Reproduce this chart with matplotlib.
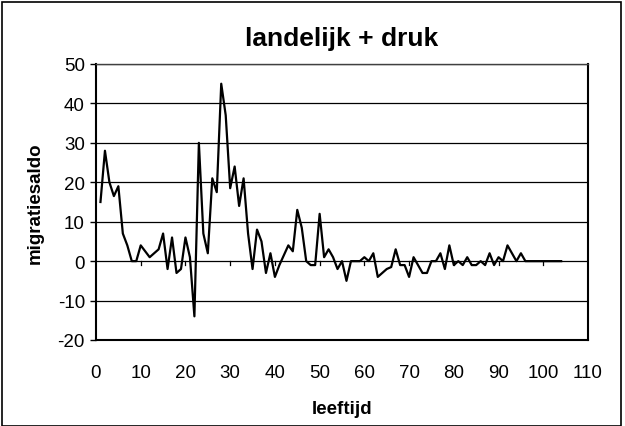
import matplotlib
matplotlib.use("Agg")
import matplotlib.pyplot as plt
from matplotlib.patches import Rectangle

plt.rcParams['font.family'] = ['Liberation Sans', 'DejaVu Sans']
plt.rcParams['axes.unicode_minus'] = False

ages = list(range(1, 105))
saldo = [15, 28, 20, 16.5, 19, 7, 4, 0, 0, 4,
         2.5, 1, 2, 3, 7, -2, 6, -3, -2, 6,
         1, -14, 30, 7, 2, 21, 17.5, 45, 37, 18.5,
         24, 14, 21, 7, -2, 8, 5, -3, 2, -4,
         -1, 1.5, 4, 2.5, 13, 8.5, 0, -1, -1, 12,
         1, 3, 1, -2, 0, -5, 0, 0, 0, 1,
         0, 2, -4, -3, -2, -1.5, 3, -1, -1, -4,
         1, -1, -3, -3, 0, 0, 2, -2, 4, -1,
         0, -1, 1, -1, -1, 0, -1, 2, -1, 1,
         0, 4, 2, 0, 2, 0, 0, 0, 0, 0,
         0, 0, 0, 0]

title = "landelijk + druk"
xlabel = "leeftijd"
ylabel = "migratiesaldo"
xticks = list(range(0, 111, 10))
yticks = list(range(-20, 51, 10))

fig = plt.figure(figsize=(6.25, 4.27), dpi=100)
ax = fig.add_axes([96/625, 1-341/427, (588-96)/625, (341-65)/427])

ax.set_xlim(0, 110)
ax.set_ylim(-20, 50)
for y in yticks:
    ax.axhline(y, color='#000000', lw=0.9, zorder=1)
ax.plot(ages, saldo, color='black', lw=1.6, zorder=3)

ax.set_xticks(xticks)
ax.set_yticks(yticks)
ax.tick_params(axis='x', length=0, pad=17, labelsize=13.5)
ax.tick_params(axis='y', length=4, width=1, direction='out', pad=4, labelsize=13.5)
# category axis ticks on zero line
for x in xticks[1:-1]:
    ax.plot([x, x], [0, -1.0], color='black', lw=0.9, zorder=2, clip_on=False)

for s in ['left', 'bottom', 'right']:
    ax.spines[s].set_linewidth(1.5)
    ax.spines[s].set_color('black')
ax.spines['top'].set_linewidth(1.0)
ax.spines['top'].set_color('#404040')

ax.set_title(title, fontsize=19, fontweight='bold', pad=14)
ax.set_xlabel(xlabel, fontsize=13.5, fontweight='bold', labelpad=14)
ax.set_ylabel(ylabel, fontsize=13.5, fontweight='bold', labelpad=10)

fig.patches.append(Rectangle((2/625, 0), 619/625, 1-3/427, transform=fig.transFigure,
                             fill=False, edgecolor='black', lw=1.2))

fig.savefig("out.png", dpi=100)
